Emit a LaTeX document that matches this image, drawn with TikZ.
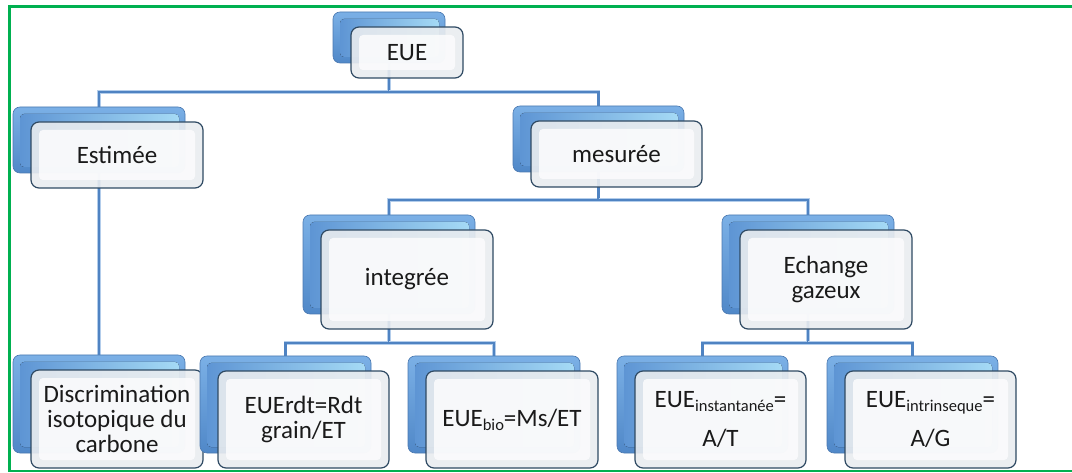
\documentclass[tikz,border=0pt]{standalone}
\usepackage{fontspec}
\setmainfont{Carlito}
\usetikzlibrary{backgrounds,calc}
\definecolor{frame}{HTML}{00B050}
\definecolor{conncol}{HTML}{4F83C2}
\definecolor{connlight}{HTML}{B3CDEB}
\definecolor{backedge}{HTML}{4A78B0}
\definecolor{backtop}{HTML}{7BB0E6}
\definecolor{backbot}{HTML}{5088C8}
\definecolor{backinl}{HTML}{5E95D4}
\definecolor{backinr}{HTML}{A5DAF5}
\definecolor{frontedge}{HTML}{2F4A63}
\definecolor{frontring}{HTML}{E9ECEF}
\definecolor{frontcore}{HTML}{FCFCFD}
\definecolor{txt}{HTML}{1A1A1A}
\tikzset{
  backbox/.style={anchor=north west, inner sep=0pt, outer sep=0pt, rounded corners=7pt,
    draw=backedge, line width=0.6pt, top color=backtop, bottom color=backbot},
  backin/.style={rounded corners=4pt, left color=backinl, right color=backinr},
  frontbox/.style={anchor=north west, inner sep=0pt, outer sep=0pt, rounded corners=8pt,
    draw=frontedge, line width=1.2pt, fill=frontring, fill opacity=0.9},
  frontin/.style={rounded corners=4pt, fill=frontcore, fill opacity=0.85},
  lbl/.style={inner sep=0pt, align=center, text=txt, font=\fontsize{25}{25}\selectfont},
  conn/.style={draw=conncol, line width=2.2pt, preaction={draw=connlight, line width=3.6pt}}
}
% subscript in the label font
\newcommand\lowtxt[1]{\raisebox{-4pt}{\fontsize{16.5}{16.5}\selectfont #1}}
% one stacked box: name, x, y (top-left of the back box), width, height, text
\newcommand\stk[6]{%
  \node[backbox, minimum width=#4pt, minimum height=#5pt] (#1b) at (#2,#3) {};
  \fill[backin] ([shift={(7pt,-7pt)}]#1b.north west) rectangle ([shift={(-6pt,6pt)}]#1b.south east);
  \node[frontbox, minimum width=#4pt, minimum height=#5pt] (#1f) at ([shift={(18pt,-15pt)}]#1b.north west) {};
  \fill[frontin] ([shift={(8pt,-8pt)}]#1f.north west) rectangle ([shift={(-8pt,8pt)}]#1f.south east);
  \node[lbl] (#1) at (#1f.center) {#6};
}
\begin{document}
\begin{tikzpicture}[x=1pt,y=-1pt]
\useasboundingbox (0,0) rectangle (1072,473);

% outer frame (open on the right)
\draw[frame, line width=3pt] (9.5,6.5) -- (1072,6.5);
\draw[frame, line width=3pt] (9.5,5) -- (9.5,471.5);
\draw[frame, line width=2pt] (8,470.5) -- (1072,470.5);

% boxes
\stk{eue}{333}{12}{112}{51}{EUE}
\stk{est}{13}{107}{172}{66}{Estimée}
\stk{mes}{513}{106}{171}{66}{mesurée}
\stk{int}{303}{215}{172}{99}{integrée}
\stk{ech}{722}{215}{172}{99}{Echange\\gazeux}
\stk{dis}{13}{355}{172}{98}{Discrimination\\isotopique du\\carbone}
\stk{rdt}{200}{356}{171}{97}{EUErdt=Rdt\\grain/ET}
\stk{bio}{408}{356}{172}{97}{EUE\lowtxt{bio}=Ms/ET}
\stk{ins}{617}{356}{171}{97}{EUE\lowtxt{instantanée}=\\[14pt]A/T}
\stk{itr}{827}{356}{171}{97}{EUE\lowtxt{intrinseque}=\\[14pt]A/G}

% connectors, behind the boxes
\coordinate (barA) at (0,92);
\coordinate (barB) at (0,200);
\coordinate (barC) at (0,343);
\begin{pgfonlayer}{background}
\draw[conn] (eueb.south) -- (eueb.south |- barA) -| (estb.north);
\draw[conn] (eueb.south |- barA) -| (mesb.north);
\draw[conn] (estb.south) -- (disb.north);
\draw[conn] (mesb.south) -- (mesb.south |- barB) -| (intb.north);
\draw[conn] (mesb.south |- barB) -| (echb.north);
\draw[conn] (intb.south) -- (intb.south |- barC) -| (rdtb.north);
\draw[conn] (intb.south |- barC) -| (biob.north);
\draw[conn] (echb.south) -- (echb.south |- barC) -| (insb.north);
\draw[conn] (echb.south |- barC) -| (itrb.north);
\end{pgfonlayer}
\end{tikzpicture}
\end{document}
